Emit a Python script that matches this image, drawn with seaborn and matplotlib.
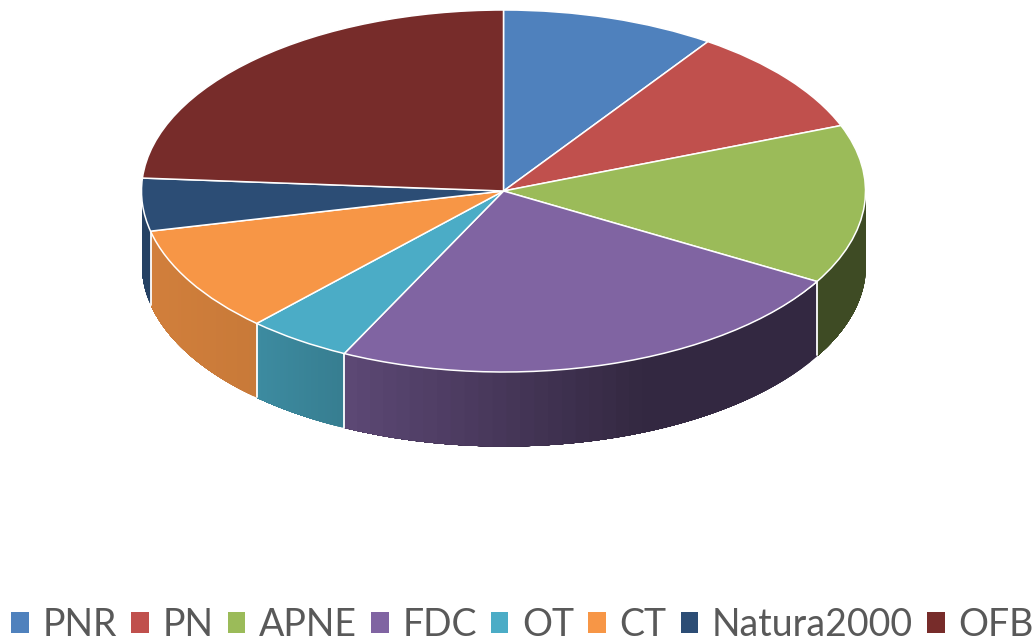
import numpy as np
import seaborn as sns
import matplotlib
matplotlib.use('Agg')
import matplotlib.pyplot as plt
from matplotlib.patches import Patch

labels = ['PNR', 'PN', 'APNE', 'FDC', 'OT', 'CT', 'Natura2000', 'OFB']
values = [9.55, 9.56, 14.22, 23.92, 4.69, 9.5, 4.7, 23.86]
colors = ['#4f81bd', '#c0504d', '#9bbb59', '#8064a2', '#4bacc6', '#f79646', '#2c4d75', '#772c2a']

sns.set_theme(style='white')
plt.rcParams['font.family'] = ['Lato', 'DejaVu Sans']
palette = sns.color_palette(colors)

W, H = 1035, 641
CX, CY, RX, RY, DEPTH = 503.5, 191, 362, 181, 74

fig = plt.figure(figsize=(W / 100, H / 100), dpi=100)
ax = fig.add_axes([0, 0, 1, 1])

wedges, _ = ax.pie(values, colors=palette, startangle=90, counterclock=False, radius=1,
                   wedgeprops={'edgecolor': 'white', 'linewidth': 1.1, 'zorder': 5})
ax.set_aspect('auto')
ax.set_xlim(-CX / RX, (W - CX) / RX)
ax.set_ylim(-(H - CY) / RY, CY / RY)
ax.axis('off')

# side wall of the disc, shaded from left to right
depth = DEPTH / RY
edges = np.cumsum([0] + values) / sum(values) * 2 * np.pi


def shade(x):
    return np.interp(x, [-1, -0.68, -0.44, 0.4, 1], [0.85, 0.81, 0.73, 0.4, 0.4])


for i, col in enumerate(palette):
    t0 = max(edges[i], np.pi / 2)
    t1 = min(edges[i + 1], 3 * np.pi / 2)
    if t1 <= t0:
        continue
    ts = np.linspace(t0, t1, 40)
    # each strip runs on to t1 and the next one paints over it, so no seams show
    for a in ts[:-1]:
        seg = np.linspace(a, t1, 80)
        x = np.sin(seg)
        y = np.cos(seg)
        c = np.array(col) * shade(np.sin(a))
        ax.fill_between(x, y, y - depth, color=c, lw=0, zorder=2)
    # white seam between slices
    if t1 < 3 * np.pi / 2:
        ax.plot([np.sin(t1)] * 2, [np.cos(t1), np.cos(t1) - depth], color='white', lw=1.3, zorder=3)

handles = [Patch(facecolor=c, edgecolor='none') for c in palette]
ax.legend(handles, labels, ncol=8, loc='lower center', bbox_to_anchor=(0.505, -0.003), frameon=False,
          fontsize=27, labelcolor='#595959', handlelength=0.47, handleheight=0.47,
          handletextpad=0.37, columnspacing=0.37, borderpad=0, borderaxespad=0)

fig.savefig('out.png', dpi=100)
